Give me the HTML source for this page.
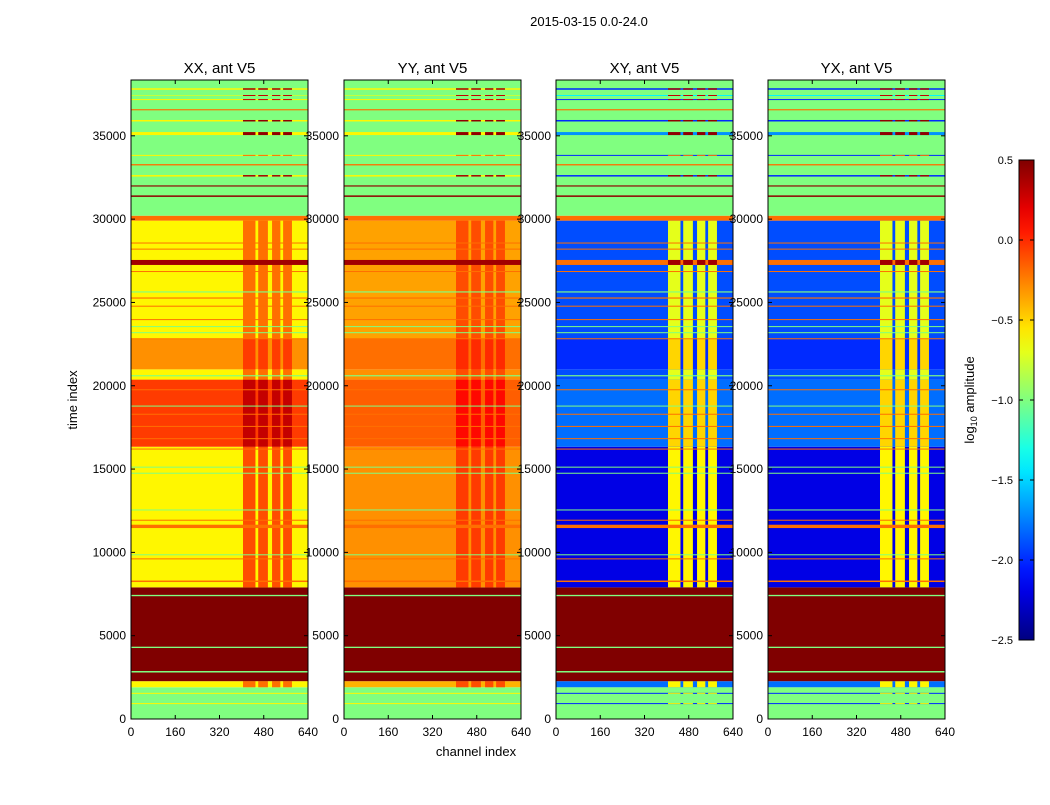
<!DOCTYPE html>
<html><head><meta charset="utf-8"><style>
body{margin:0;background:#fff;font-family:"Liberation Sans",sans-serif}
svg text{font-family:"Liberation Sans",sans-serif}
</style></head><body>
<svg id="fig" width="1050" height="800" xmlns="http://www.w3.org/2000/svg">
<rect width="1050" height="800" fill="#fff"/>
<text x="589" y="26" font-size="13" text-anchor="middle">2015-03-15 0.0-24.0</text>
<text transform="translate(77,400) rotate(-90)" font-size="13" text-anchor="middle">time index</text>
<text x="476" y="756" font-size="13" text-anchor="middle">channel index</text>
<g id="panels"></g>
<g id="cbar"></g>
<text transform="translate(974,400) rotate(-90)" font-size="13" text-anchor="middle">log<tspan font-size="9" dy="3">10</tspan><tspan dy="-3"> amplitude</tspan></text>
</svg>
<script>
const panelTitles=["XX, ant V5","YY, ant V5","XY, ant V5","YX, ant V5"];
const yTicks=[0,5000,10000,15000,20000,25000,30000,35000];
const xTicks=[0,160,320,480,640];
const cbTicks=[0.5,0.0,-0.5,-1.0,-1.5,-2.0,-2.5];
const cbLabels=["0.5","0.0","\u22120.5","\u22121.0","\u22121.5","\u22122.0","\u22122.5"];
const stripeCols=[[405,450],[460,495],[510,540],[550,582]];
// [t0,t1, baseXX,stripeXX, baseYY,stripeYY, baseXY,stripeXY, baseYX,stripeYX]
const bands=[
[0,1905,-1,-1,-1,-1,-1,-1,-1,-1],
[1905,2270,-0.6,-0.2,-0.4,-0.1,-1.8,-0.6,-1.8,-0.6],
[2270,7900,0.5,0.5,0.5,0.5,0.5,0.5,0.5,0.5],
[7900,16340,-0.6,-0.1,-0.3,-0.05,-2.2,-0.6,-2.2,-0.6],
[16340,20370,-0.05,0.3,-0.15,0.1,-1.8,-0.5,-1.8,-0.5],
[20370,20985,-0.6,-0.2,-0.3,-0.1,-1.9,-0.7,-1.9,-0.7],
[20985,22820,-0.3,-0.05,-0.2,0,-2.0,-0.5,-2.0,-0.5],
[22820,29910,-0.6,-0.2,-0.35,-0.1,-1.9,-0.7,-1.9,-0.7],
[29910,30205,-0.2,-0.2,-0.2,-0.2,-0.2,-0.2,-0.2,-0.2],
[30205,38350,-1,-1,-1,-1,-1,-1,-1,-1]
];
// [t, thickness, valueCo, valueCross, valueStripe]
const lines=[
[37810,90,-0.6,-2.0,0.4],[37420,60,-0.8,-1.4,0.3],[37175,60,-0.6,-2.0,0.3],
[36565,70,-0.2,-0.2,-0.2],[35905,90,-0.6,-2.0,0.45],[35135,180,-0.6,-1.7,0.45],
[33825,60,-0.6,-2.0,-0.2],[33263,80,-0.2,-0.2,-0.2],[32600,90,-0.6,-2.0,0.4],
[31990,70,0.45,0.45,0.45],[31380,90,0.45,0.45,0.45],
[28566,60,-0.2,-0.2,-0.2],[28200,60,-0.2,-0.2,-0.2],[27400,300,0.4,-0.2,0.4],
[26855,60,-0.2,-0.2,-0.2],[25630,70,-1.0,-1.0,-1.0],[25265,70,-0.2,-0.2,-0.2],
[24775,60,-0.2,-0.2,-0.2],[23970,60,-0.2,-0.2,-0.2],[23550,60,-1.0,-1.0,-1.0],
[23185,60,-1.0,-1.0,-1.0],[22820,60,-0.2,-0.2,-0.2],[20600,70,-1.0,-1.0,-1.0],
[19760,60,-0.2,-0.2,-0.2],[18780,60,-1.0,-1.0,-1.0],[18290,60,-0.2,-0.2,-0.2],
[17560,60,-0.2,-0.2,-0.2],[16825,60,-0.2,-0.2,-0.2],[16200,60,-0.2,-0.2,-0.2],
[15115,60,-1.0,-1.0,-1.0],[14750,60,-1.0,-1.0,-1.0],[12545,60,-1.0,-1.0,-1.0],
[11930,60,-0.2,-0.2,-0.2],[11560,200,-0.2,-0.2,-0.2],[9855,60,-1.0,-1.0,-1.0],
[9610,60,-0.2,-0.2,-0.2],[8265,90,-0.2,-0.2,-0.2],
[7410,80,-1.0,-1.0,-1.0],[4300,80,-1.0,-1.0,-1.0],[2835,90,-1.0,-1.0,-1.0],
[1540,60,-0.6,-2.0,-0.6],[925,60,-0.6,-2.0,-0.6]
];
const T_MAX=38350, C_MAX=640;
const panelX=[131,344,556,768], PW=177, PY=80, PH=639;
const NS="http://www.w3.org/2000/svg";
function jet(v){
  let x=(v+2.5)/3; x=Math.max(0,Math.min(1,x));
  const c=a=>Math.round(255*Math.max(0,Math.min(1,1.5-Math.abs(4*x-a))));
  return `rgb(${c(3)},${c(2)},${c(1)})`;
}
function mk(tag,attrs,parent){const e=document.createElementNS(NS,tag);for(const k in attrs)e.setAttribute(k,attrs[k]);parent.appendChild(e);return e;}
const root=document.getElementById('panels');
panelTitles.forEach((title,p)=>{
  const x0=panelX[p];
  const xs=c=>x0+c/C_MAX*PW;
  const ys=t=>PY+PH-t/T_MAX*PH;
  const g=mk('g',{},root);
  
  
  const cross=p>=2;
  const fillRow=(t0,t1,base,str,nm)=>{
    const r=mk('rect',{x:xs(0),y:ys(t1),width:PW,height:Math.max(0.8,ys(t0)-ys(t1)),fill:jet(base)},g);
    
    
    if(str!==base){stripeCols.forEach(sc=>{
      const s=mk('rect',{x:xs(sc[0]),y:ys(t1),width:xs(sc[1])-xs(sc[0]),height:Math.max(0.8,ys(t0)-ys(t1)),fill:jet(str)},g);
      
      
    });}
  };
  bands.forEach(b=>{fillRow(b[0],b[1],b[2+2*p],b[3+2*p],'band');});
  lines.forEach(l=>{const v=cross?l[3]:l[2];fillRow(l[0]-l[1]/2,l[0]+l[1]/2,v,l[4],'line');});
  const fr=mk('rect',{x:x0,y:PY,width:PW,height:PH,fill:'none',stroke:'#000','stroke-width':1},g);
  
  
  const tt=mk('text',{x:x0+PW/2,y:PY-7,'font-size':15,'text-anchor':'middle'},g);tt.textContent=title;
  
  
  yTicks.forEach(t=>{
    const y=ys(t);
    mk('line',{x1:x0,x2:x0+4,y1:y,y2:y,stroke:'#000'},g);
    mk('line',{x1:x0+PW-4,x2:x0+PW,y1:y,y2:y,stroke:'#000'},g);
    const lb=mk('text',{x:x0-5,y:y+4,'font-size':12,'text-anchor':'end'},g);lb.textContent=t;
    
    
  });
  xTicks.forEach(c=>{
    const x=xs(c);
    mk('line',{x1:x,x2:x,y1:PY+PH,y2:PY+PH-4,stroke:'#000'},g);
    mk('line',{x1:x,x2:x,y1:PY,y2:PY+4,stroke:'#000'},g);
    const lb=mk('text',{x:x,y:PY+PH+17,'font-size':12,'text-anchor':'middle'},g);lb.textContent=c;
    
    
  });
});
// colorbar
const cb=document.getElementById('cbar');
const CBX=1019,CBW=15,CBY=160,CBH=480;
const cy=v=>CBY+(0.5-v)/3*CBH;
const defs=mk('defs',{},cb);
const grad=mk('linearGradient',{id:'jetg',x1:0,y1:1,x2:0,y2:0},defs);
for(let i=0;i<=20;i++){const v=-2.5+3*i/20;mk('stop',{offset:i/20,'stop-color':jet(v)},grad);}
mk('rect',{x:CBX,y:CBY,width:CBW,height:CBH,fill:'url(#jetg)',stroke:'#000'},cb);
cbTicks.forEach((v,i)=>{
  const y=cy(v);
  mk('line',{x1:CBX+CBW-4,x2:CBX+CBW,y1:y,y2:y,stroke:'#000'},cb);
  mk('line',{x1:CBX,x2:CBX+4,y1:y,y2:y,stroke:'#000'},cb);
  const lb=mk('text',{x:CBX-6,y:y+4,'font-size':11,'text-anchor':'end'},cb);lb.textContent=cbLabels[i];
  
  
});
</script>
</body></html>
